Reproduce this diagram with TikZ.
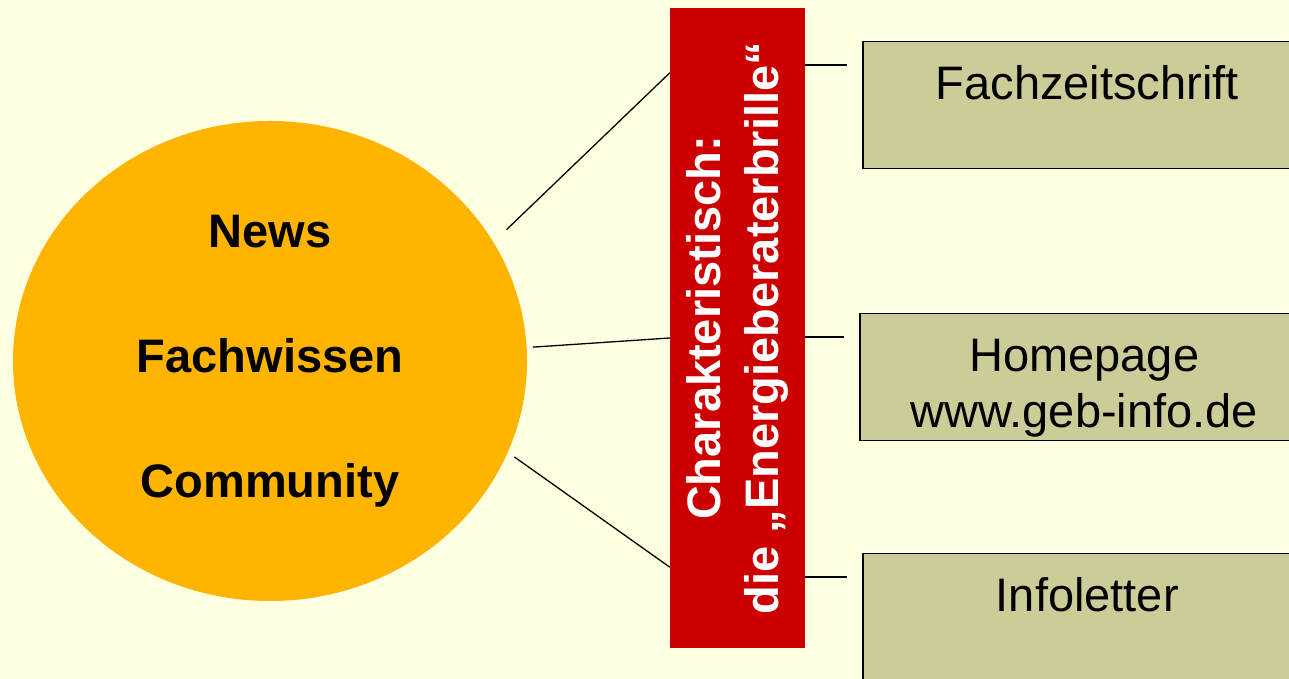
\documentclass[tikz,border=0pt]{standalone}
\usepackage{fontspec}
\setmainfont{Liberation Sans}
\usetikzlibrary{shapes.geometric}
\definecolor{paper}{RGB}{255,255,225}
\definecolor{sun}{RGB}{255,181,0}
\definecolor{signal}{RGB}{204,0,0}
\definecolor{khaki}{RGB}{204,204,153}
\begin{document}
\begin{tikzpicture}[x=1pt, y=1pt,
  hub/.style={ellipse, fill=sun, minimum width=514pt, minimum height=480pt, align=center, font=\fontsize{47}{125}\selectfont\bfseries},
  banner/.style={fill=signal, minimum width=135pt, minimum height=640pt, inner sep=0pt, text=white, font=\fontsize{47}{58}\selectfont\bfseries},
  infobox/.style={draw, fill=khaki, line width=1.5pt, anchor=north west, minimum width=449pt, inner sep=0pt, text height=58pt, text depth=69pt, font=\fontsize{47}{56}\selectfont},
  link/.style={line width=1.3pt}]
  \fill[paper] (0,0) rectangle (1289,679);
  \useasboundingbox (0,0) rectangle (1289,679);
  \node[hub] (hub) at (270,318) {News\\Fachwissen\\Community};
  \node[banner] (bar) at (737.5,351) {\rotatebox{90}{\begin{tabular}{@{}c@{}}Charakteristisch:\\die „Energieberaterbrille“\end{tabular}}};
  \node[infobox] (fach) at (862,638) {Fachzeitschrift};
  \node[infobox] (home) at (859,366) {\begin{tabular}[t]{@{}c@{}}Homepage\\www.geb-info.de\end{tabular}};
  \node[infobox] (info) at (862,126) {Infoletter};
  \draw[link, shorten <=18pt] (hub.28) -- ([yshift=-65pt]bar.north west);
  \draw[link, shorten <=6pt] (hub.3) -- ([yshift=-10pt]bar.west);
  \draw[link, shorten <=8pt] (hub.-21) -- ([yshift=81pt]bar.south west);
  \foreach \b in {fach,home,info}{
    \coordinate (\b-tip) at ([shift={(-15pt,-24pt)}]\b.north west);
    \draw[link] (bar.east |- \b-tip) -- (\b-tip);
  }
\end{tikzpicture}
\end{document}
